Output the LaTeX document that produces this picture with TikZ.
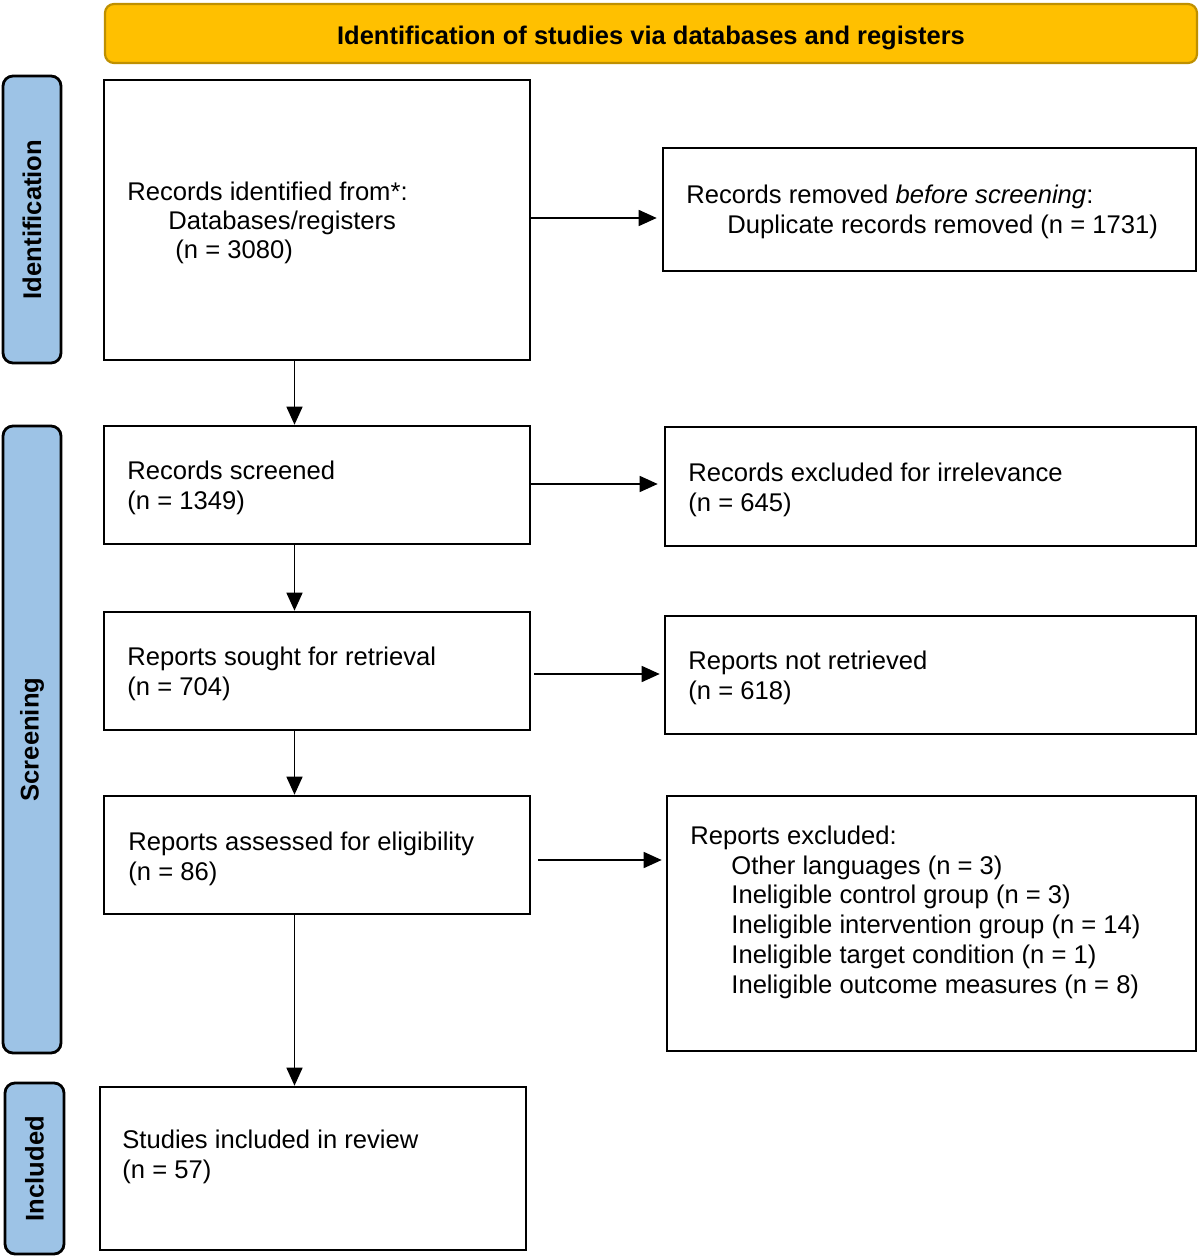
\documentclass[tikz,border=0pt]{standalone}
\usepackage{fontspec}
\setmainfont{Liberation Sans}
\usetikzlibrary{arrows.meta}
\definecolor{hdrfill}{HTML}{FFC000}
\definecolor{hdrline}{HTML}{BF9000}
\definecolor{sidefill}{HTML}{9DC3E6}
\tikzset{
  box/.style={draw=black, line width=1.3pt, fill=white, inner sep=0pt},
  header/.style={draw=hdrline, line width=1.1pt, fill=hdrfill, rounded corners=4.5pt, inner sep=0pt},
  headerlabel/.style={inner sep=0pt, font=\fontsize{12.75pt}{14pt}\selectfont\bfseries},
  side/.style={draw=black, line width=1.4pt, fill=sidefill, rounded corners=5pt, inner sep=0pt},
  sidelabel/.style={rotate=90, font=\fontsize{12.8pt}{14pt}\selectfont\bfseries, inner sep=0pt},
  txt/.style={anchor=base west, inner sep=0pt, font=\fontsize{12.8pt}{14.75pt}\selectfont},
  arr/.style={line width=0.75pt, -{Triangle[length=9pt,width=8pt]}}
}
\begin{document}
\begin{tikzpicture}[x=0.5pt,y=-0.5pt]
\useasboundingbox (0,0) rectangle (1200,1256);

% header
\node[header, minimum width=546pt, minimum height=29.5pt] (hdr) at (651,33.5) {};
\node[headerlabel] (hdrl) at (651,37.5) {Identification of studies via databases and registers};

% side bars
\node[side, minimum width=29pt, minimum height=143.5pt] (sid) at (32,219.5) {};
\node[sidelabel] (sidl) at (sid.center) {Identification};
\node[side, minimum width=29pt, minimum height=313.5pt] (sscr) at (32,739.5) {};
\node[sidelabel] (sscrl) at (sscr.center) {Screening};
\node[side, minimum width=29.5pt, minimum height=85.5pt] (sinc) at (34.5,1168.5) {};
\node[sidelabel] (sincl) at (sinc.center) {Included};

% boxes
\node[box, minimum width=213pt, minimum height=140pt] (b1) at (317,220) {};
\node[box, minimum width=266.5pt, minimum height=61.5pt] (rem) at (929.5,209.5) {};
\node[box, minimum width=213pt, minimum height=59pt] (scr) at (317,485) {};
\node[box, minimum width=265.5pt, minimum height=59.5pt] (exc) at (930.5,486.5) {};
\node[box, minimum width=213pt, minimum height=59pt] (sou) at (317,671) {};
\node[box, minimum width=265.5pt, minimum height=59pt] (nre) at (930.5,675) {};
\node[box, minimum width=213pt, minimum height=59pt] (ass) at (317,855) {};
\node[box, minimum width=264.5pt, minimum height=127.5pt] (rex) at (931.5,923.5) {};
\node[box, minimum width=213pt, minimum height=81.5pt] (inc) at (313,1168.5) {};

% texts
\node[txt] (t1a) at (127,201) {Records identified from*:};
\node[txt] (t1b) at (168,230) {Databases/registers};
\node[txt] (t1c) at (175,259) {(n = 3080)};

\node[txt] (t2a) at (686,204) {Records removed \textit{before screening}:};
\node[txt] (t2b) at (727,234) {Duplicate records removed (n = 1731)};

\node[txt] (t3a) at (127,479) {Records screened};
\node[txt] (t3b) at (127,509) {(n = 1349)};

\node[txt] (t4a) at (688,481) {Records excluded for irrelevance};
\node[txt] (t4b) at (688,511) {(n = 645)};

\node[txt] (t5a) at (127,665) {Reports sought for retrieval};
\node[txt] (t5b) at (127,695) {(n = 704)};

\node[txt] (t6a) at (688,669) {Reports not retrieved};
\node[txt] (t6b) at (688,699) {(n = 618)};

\node[txt] (t7a) at (128,850) {Reports assessed for eligibility};
\node[txt] (t7b) at (128,880) {(n = 86)};

\node[txt] (t8a) at (690,844) {Reports excluded:};
\node[txt] (t8b) at (731,874) {Other languages (n = 3)};
\node[txt] (t8c) at (731,903) {Ineligible control group (n = 3)};
\node[txt] (t8d) at (731,933) {Ineligible intervention group (n = 14)};
\node[txt] (t8e) at (731,963) {Ineligible target condition (n = 1)};
\node[txt] (t8f) at (731,993) {Ineligible outcome measures (n = 8)};

\node[txt] (t9a) at (122,1148) {Studies included in review};
\node[txt] (t9b) at (122,1178) {(n = 57)};

% connectors
\coordinate (cx) at (294.5,0);
\coordinate (ay1) at (0,218);
\coordinate (ay2) at (0,484);
\coordinate (ay3) at (0,674);
\coordinate (ay4) at (0,860);
\draw[arr] (b1.south -| cx) -- (scr.north -| cx);
\draw[arr] (scr.south -| cx) -- (sou.north -| cx);
\draw[arr] (sou.south -| cx) -- (ass.north -| cx);
\draw[arr] (ass.south -| cx) -- (inc.north -| cx);

\draw[arr, shorten >=2.5pt] (b1.east |- ay1) -- (rem.west |- ay1);
\draw[arr, shorten >=3pt] (scr.east |- ay2) -- (exc.west |- ay2);
\draw[arr, shorten <=1.5pt, shorten >=2pt] (sou.east |- ay3) -- (nre.west |- ay3);
\draw[arr, shorten <=3.5pt, shorten >=2pt] (ass.east |- ay4) -- (rex.west |- ay4);
\end{tikzpicture}
\end{document}
